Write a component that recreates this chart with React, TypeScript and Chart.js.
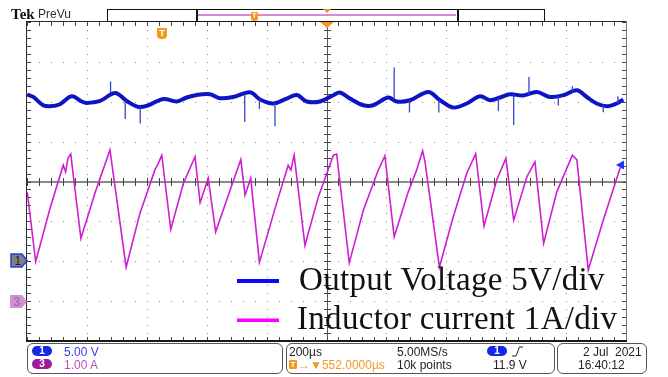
import React, { useEffect, useRef } from 'react';
import { Chart, registerables } from 'chart.js';

Chart.register(...registerables);

// Horizontal: 200 µs/div, 10 divisions, time relative to trigger (centre = +552 µs)
const X_MIN = -448;
const X_MAX = 1552;
const X_DIV = 200;
// Channel 1: 5 V/div, ground 2 div above bottom
const V_MIN = -10;
const V_MAX = 30;
const V_DIV = 5;
// Channel 3: 1 A/div, ground 1 div above bottom
const I_MIN = -1;
const I_MAX = 7;

// Output voltage (ch1) trace, µs / V
const V_TIME = [-447, -427, -394, -371, -338, -299, -265, -249, -204, -154, -115, -76, -43, 7, 52, 85, 119, 163, 196, 241, 297, 330, 374, 419, 453, 486, 530, 575, 597, 630, 675, 708, 758, 786, 831, 892, 931, 975, 1020, 1065, 1098, 1131, 1165, 1209, 1254, 1298, 1343, 1388, 1421, 1454, 1488, 1521, 1543];
const V_OUT = [20.9, 20.6, 19.56, 19.44, 19.69, 20.69, 20.03, 19.85, 20.1, 21.1, 20.1, 19.35, 19.56, 20.35, 20.03, 20.53, 20.85, 20.94, 20.44, 20.6, 21.19, 20.28, 19.78, 20.4, 20.85, 20.03, 20.03, 20.82, 21.15, 20.4, 19.56, 19.56, 20.53, 20.03, 20.19, 21.23, 20.19, 19.27, 19.78, 20.69, 20.19, 20.53, 20.94, 20.78, 21.23, 20.6, 20.82, 21.44, 20.6, 19.78, 19.44, 19.78, 20.28];

// Switching spikes on the output voltage, µs / V
const SPIKE_TIME = [-169, -120, -70, 279, 328, 380, 778, 829, 927, 1126, 1177, 1228, 1326, 1373, 1476, 1525];
const SPIKE_BASE = [21.1, 20.1, 19.4, 21.0, 20.3, 19.8, 20.3, 20.2, 20.2, 20.5, 20.9, 20.9, 20.7, 21.2, 19.6, 19.8];
const SPIKE_TIP = [22.53, 17.84, 17.27, 17.47, 19.1, 16.93, 24.29, 18.65, 18.65, 18.85, 17.09, 23.11, 19.52, 21.95, 18.68, 20.69];

// Inductor current (ch3) trace, µs / A
const I_TIME = [-447, -419, -371, -327, -319, -311, -302, -268, -221, -171, -117, -71, -21, -10, 2, 32, 74, 113, 130, 157, 182, 230, 266, 280, 299, 328, 380, 424, 433, 444, 480, 525, 553, 575, 586, 628, 675, 725, 747, 778, 825, 853, 873, 881, 929, 975, 1020, 1050, 1078, 1120, 1151, 1177, 1221, 1248, 1277, 1321, 1373, 1388, 1426, 1476, 1532, 1543];
const I_L = [2.73, 0.99, 2.33, 3.41, 3.24, 3.59, 3.69, 1.57, 2.71, 3.79, 0.85, 2.2, 3.29, 3.45, 3.66, 1.8, 2.95, 3.62, 2.47, 3.08, 1.74, 2.78, 3.55, 2.66, 3.08, 0.97, 2.32, 3.41, 3.29, 3.66, 1.4, 2.62, 3.2, 3.66, 3.69, 0.96, 2.28, 3.29, 3.64, 1.61, 2.74, 3.29, 3.77, 3.49, 0.85, 2.11, 3.2, 3.69, 1.88, 3.03, 3.58, 2.03, 3.12, 3.49, 1.45, 2.74, 3.66, 3.54, 0.78, 2.03, 3.33, 3.41];

const LEGEND_LABELS = ['Output Voltage 5V/div', 'Inductor current 1A/div'];

const graticule = {
  id: 'graticule',
  beforeDatasetsDraw(chart: any) {
    const { ctx, chartArea: a, scales } = chart;
    const xs = scales.x;
    const ys = scales.y1;
    const px = (t: number) => Math.round(xs.getPixelForValue(t));
    const py = (v: number) => Math.round(ys.getPixelForValue(v));
    const nX = (X_MAX - X_MIN) / X_DIV;
    const nY = (V_MAX - V_MIN) / V_DIV;
    const xMinor: number[] = [];
    for (let i = 0; i <= nX * 5; i++) xMinor.push(px(X_MIN + (i * X_DIV) / 5));
    const yMinor: number[] = [];
    for (let j = 0; j <= nY * 5; j++) yMinor.push(py(V_MIN + (j * V_DIV) / 5));
    ctx.save();
    // dotted major grid
    ctx.fillStyle = '#8c8c8c';
    for (let i = 1; i < nX; i++) {
      const x = px(X_MIN + i * X_DIV);
      for (const y of yMinor) ctx.fillRect(x, y, 1, 1);
    }
    for (let j = 1; j < nY; j++) {
      const y = py(V_MIN + j * V_DIV);
      for (const x of xMinor) ctx.fillRect(x, y, 1, 1);
    }
    // centre crosshair
    const cx = px(X_MIN + (nX / 2) * X_DIV);
    const cy = py(V_MIN + (nY / 2) * V_DIV);
    ctx.fillStyle = '#8a8a8a';
    ctx.fillRect(a.left, cy - 1, a.right - a.left, 2);
    ctx.fillStyle = '#555';
    ctx.fillRect(cx, a.top, 1, a.bottom - a.top);
    ctx.fillStyle = '#444';
    for (const x of xMinor) {
      ctx.fillRect(x, cy - 4, 1, 8);
      ctx.fillRect(x, a.top, 1, 4);
      ctx.fillRect(x, a.bottom - 4, 1, 4);
    }
    for (const y of yMinor) {
      ctx.fillRect(cx - 3, y, 7, 1);
      ctx.fillRect(a.left, y, 4, 1);
      ctx.fillRect(a.right - 4, y, 4, 1);
    }
    // frame
    ctx.fillStyle = '#2a2a2a';
    ctx.fillRect(a.left - 1, a.top - 1, a.right - a.left + 2, 1);
    ctx.fillRect(a.left - 1, a.top - 1, 1, a.bottom - a.top + 2);
    ctx.fillStyle = '#7a7a7a';
    ctx.fillRect(a.right, a.top - 1, 1, a.bottom - a.top + 2);
    ctx.fillStyle = '#1a1a1a';
    ctx.fillRect(a.left - 1, a.bottom - 1, a.right - a.left + 2, 2);
    ctx.restore();
  },
};

const abs = (l: number, t: number, extra: React.CSSProperties = {}): React.CSSProperties => ({
  position: 'absolute',
  left: l,
  top: t,
  ...extra,
});

function Pill({ l, t, bg, label }: { l: number; t: number; bg: string; label: string }) {
  return (
    <div
      style={abs(l, t, {
        width: 20,
        height: 10,
        borderRadius: 6,
        background: bg,
        color: '#fff',
        fontSize: 10,
        lineHeight: '10px',
        textAlign: 'center',
        fontWeight: 'bold',
      })}
    >
      {label}
    </div>
  );
}

export default function App() {
  const ref = useRef<HTMLCanvasElement>(null);

  useEffect(() => {
    const spikeData: { x: number; y: number | null }[] = [];
    SPIKE_TIME.forEach((t, i) => {
      spikeData.push({ x: t, y: SPIKE_BASE[i] });
      spikeData.push({ x: t, y: SPIKE_TIP[i] });
      spikeData.push({ x: t, y: null });
    });
    const chart = new Chart(ref.current as HTMLCanvasElement, {
      type: 'line',
      data: {
        datasets: [
          {
            label: LEGEND_LABELS[1],
            data: I_TIME.map((t, i) => ({ x: t, y: I_L[i] })),
            yAxisID: 'y3',
            borderColor: '#d21cd2',
            borderWidth: 1.6,
            pointRadius: 0,
            tension: 0,
          },
          {
            label: 'spikes',
            data: spikeData as any,
            yAxisID: 'y1',
            borderColor: '#3446cf',
            borderWidth: 1.3,
            pointRadius: 0,
            spanGaps: false,
          },
          {
            label: LEGEND_LABELS[0],
            data: V_TIME.map((t, i) => ({ x: t, y: V_OUT[i] })),
            yAxisID: 'y1',
            borderColor: '#0e14c2',
            borderWidth: 4,
            pointRadius: 0,
            tension: 0.35,
          },
        ],
      },
      options: {
        animation: false,
        responsive: false,
        devicePixelRatio: 1,
        events: [],
        layout: { padding: { left: 27, top: 22, right: 42, bottom: 36 } },
        plugins: { legend: { display: false }, tooltip: { enabled: false } },
        scales: {
          x: { type: 'linear', min: X_MIN, max: X_MAX, display: false },
          y1: { type: 'linear', min: V_MIN, max: V_MAX, display: false },
          y3: { type: 'linear', min: I_MIN, max: I_MAX, display: false },
        },
      },
      plugins: [graticule],
    });
    return () => chart.destroy();
  }, []);

  const sans = '"Liberation Sans", Arial, sans-serif';
  const box: React.CSSProperties = {
    position: 'absolute',
    top: 343,
    height: 31,
    border: '1px solid #555',
    borderRadius: 6,
    boxSizing: 'border-box',
  };
  const txt = (l: number, t: number, color: string, extra: React.CSSProperties = {}) =>
    abs(l, t, { color, fontSize: 12, lineHeight: '12px', whiteSpace: 'pre', fontFamily: sans, ...extra });

  return (
    <div style={{ position: 'absolute', left: 0, top: 0, width: 668, height: 377, overflow: 'hidden', background: '#fff', fontFamily: sans }}>
      <canvas ref={ref} width={668} height={377} style={abs(0, 0, { width: 668, height: 377 })} />

      {/* header */}
      <div style={abs(11, 7, { fontFamily: '"Liberation Serif", serif', fontWeight: 'bold', fontSize: 15, lineHeight: '15px', color: '#111' })}>Tek</div>
      <div style={txt(38, 8, '#333', { fontSize: 12 })}>PreVu</div>
      <div style={abs(107, 9, { width: 438, height: 13, border: '1px solid #111', boxSizing: 'border-box' })} />
      <div style={abs(196, 9, { width: 263, height: 13, borderLeft: '2px solid #111', borderRight: '2px solid #111', boxSizing: 'border-box' })} />
      <div style={abs(198, 14, { width: 258, height: 2, background: '#d68ad8' })} />
      <div style={abs(251, 12, { width: 7, height: 9, background: '#f29a20', borderRadius: '1px 1px 3px 3px', color: '#fff', fontSize: 7, lineHeight: '8px', textAlign: 'center', fontWeight: 'bold' })}>T</div>
      <svg width={668} height={377} style={abs(0, 0)}>
        <polygon points="323,9 331,9 327,13" fill="#f29a20" />
        <polygon points="320,22 334,22 327,28" fill="#f29a20" />
        {/* channel markers */}
        <polygon points="11,254 22,254 27,260.5 22,267 11,267" fill="#7f7f7f" stroke="#1f3fe0" strokeWidth={1.5} />
        <text x={14.5} y={265} fontSize={12} fill="#1e1e1e" fontFamily={sans}>1</text>
        <polygon points="10,295 22,295 27,301.5 22,308 10,308" fill="#d58fd5" />
        <text x={13.5} y={306} fontSize={12} fill="#8a6f8a" fontFamily={sans}>3</text>
        {/* trigger level */}
        <polygon points="616,165 624,160.5 624,169.5" fill="#1a3ae8" />
        {/* slope icon */}
        <polyline points="512,356 516,356 519.5,347 523,347" fill="none" stroke="#222" strokeWidth={1} />
        {/* legend lines */}
        <rect x={237} y={279} width={42} height={4} fill="#0a0af5" />
        <rect x={237} y={318.5} width={42} height={3.5} fill="#ff00ff" />
      </svg>
      <div style={abs(157, 28, { width: 10, height: 11, background: '#f29a20', borderRadius: '1px 1px 4px 4px', color: '#fff', fontSize: 9, lineHeight: '10px', textAlign: 'center', fontWeight: 'bold' })}>T</div>

      {/* legend */}
      <div style={abs(299, 263, { fontFamily: '"Liberation Serif", "Times New Roman", serif', fontSize: 33, lineHeight: '33px', color: '#111', whiteSpace: 'pre', letterSpacing: 0.3 })}>{LEGEND_LABELS[0]}</div>
      <div style={abs(297, 302, { fontFamily: '"Liberation Serif", "Times New Roman", serif', fontSize: 33, lineHeight: '33px', color: '#111', whiteSpace: 'pre', letterSpacing: 0.3 })}>{LEGEND_LABELS[1]}</div>

      {/* status bar */}
      <div style={{ ...box, left: 27, width: 256 }} />
      <Pill l={32} t={346} bg="#1428e6" label="1" />
      <div style={txt(64, 346, '#3a3ae8')}>5.00 V</div>
      <Pill l={32} t={359} bg="#9c1c9c" label="3" />
      <div style={txt(64, 359, '#c04cc0')}>1.00 A</div>

      <div style={{ ...box, left: 286, width: 269 }} />
      <div style={txt(289, 346, '#222')}>200µs</div>
      <div style={abs(289, 360, { width: 8, height: 9, background: '#f29a20', borderRadius: 1, color: '#fff', fontSize: 8, lineHeight: '9px', textAlign: 'center', fontWeight: 'bold' })}>T</div>
      <div style={txt(298, 359, '#f29a20')}>{'→▼552.0000µs'}</div>
      <div style={txt(397, 346, '#222')}>5.00MS/s</div>
      <div style={txt(397, 359, '#222')}>10k points</div>
      <Pill l={487} t={346} bg="#1428e6" label="1" />
      <div style={txt(493, 359, '#222')}>11.9 V</div>

      <div style={{ ...box, left: 557, width: 90 }} />
      <div style={txt(583, 346, '#222')}>{'2 Jul  2021'}</div>
      <div style={txt(578, 359, '#222')}>16:40:12</div>
    </div>
  );
}
